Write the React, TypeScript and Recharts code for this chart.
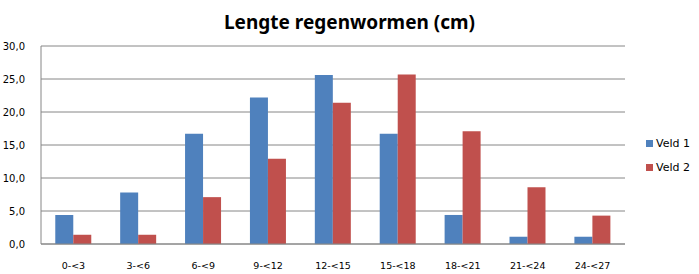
import { BarChart, Bar, XAxis, YAxis, CartesianGrid, Legend } from "recharts";

const categories = ["0-<3", "3-<6", "6-<9", "9-<12", "12-<15", "15-<18", "18-<21", "21-<24", "24-<27"];
const veld1 = [4.4, 7.8, 16.7, 22.2, 25.6, 16.7, 4.4, 1.1, 1.1];
const veld2 = [1.4, 1.4, 7.1, 12.9, 21.4, 25.7, 17.1, 8.6, 4.3];
const yTicks = [0, 5, 10, 15, 20, 25, 30];

const BLUE = "#4F81BD";
const RED = "#C0504D";
const GRID = "#868686";
const FONT = "'DejaVu Sans', Verdana, sans-serif";

const data = categories.map((c, i) => ({ name: c, veld1: veld1[i], veld2: veld2[i] }));

const fmt = (v: number) => v.toFixed(1).replace(".", ",");

function LegendBox({ payload }: any) {
  return (
    <div style={{ fontFamily: FONT, fontSize: 11, color: "#000", paddingLeft: 21, whiteSpace: "nowrap" }}>
      {(payload || []).map((p: any) => (
        <div key={p.value} style={{ display: "flex", alignItems: "center", height: 24 }}>
          <span
            style={{
              display: "inline-block",
              flexShrink: 0,
              width: 7,
              height: 7,
              background: p.color,
              marginRight: 3,
            }}
          />
          <span>{p.value}</span>
        </div>
      ))}
    </div>
  );
}

export default function App() {
  return (
    <div style={{ position: "relative", width: 699, height: 274, background: "#fff" }}>
      <style>{`body{margin:0}`}</style>
      <div
        style={{
          position: "absolute",
          top: 9,
          left: 0,
          width: 699,
          textAlign: "center",
          fontFamily: "'Noto Sans', sans-serif",
          fontWeight: 700,
          fontSize: 19,
          color: "#000",
        }}
      >
        Lengte regenwormen (cm)
      </div>
      <BarChart
        width={699}
        height={274}
        data={data}
        margin={{ top: 46, right: 4, bottom: 0, left: 0 }}
        barCategoryGap="22%"
        barGap={0}
      >
        <CartesianGrid vertical={false} stroke={GRID} strokeWidth={1} />
        <XAxis
          dataKey="name"
          height={30}
          tickLine={false}
          axisLine={{ stroke: GRID }}
          tickMargin={12}
          interval={0}
          tick={{ fontFamily: FONT, fontSize: 9.5, fill: "#000" }}
        />
        <YAxis
          width={41}
          domain={[0, 30]}
          ticks={yTicks}
          tickFormatter={fmt}
          tickLine={false}
          axisLine={{ stroke: GRID }}
          tickMargin={10}
          tick={{ fontFamily: FONT, fontSize: 10, fill: "#000" }}
        />
        <Legend
          layout="vertical"
          align="right"
          verticalAlign="middle"
          wrapperStyle={{ width: 70, top: 131 }}
          content={<LegendBox />}
        />
        <Bar dataKey="veld1" name="Veld 1" fill={BLUE} isAnimationActive={false} />
        <Bar dataKey="veld2" name="Veld 2" fill={RED} isAnimationActive={false} />
      </BarChart>
    </div>
  );
}
